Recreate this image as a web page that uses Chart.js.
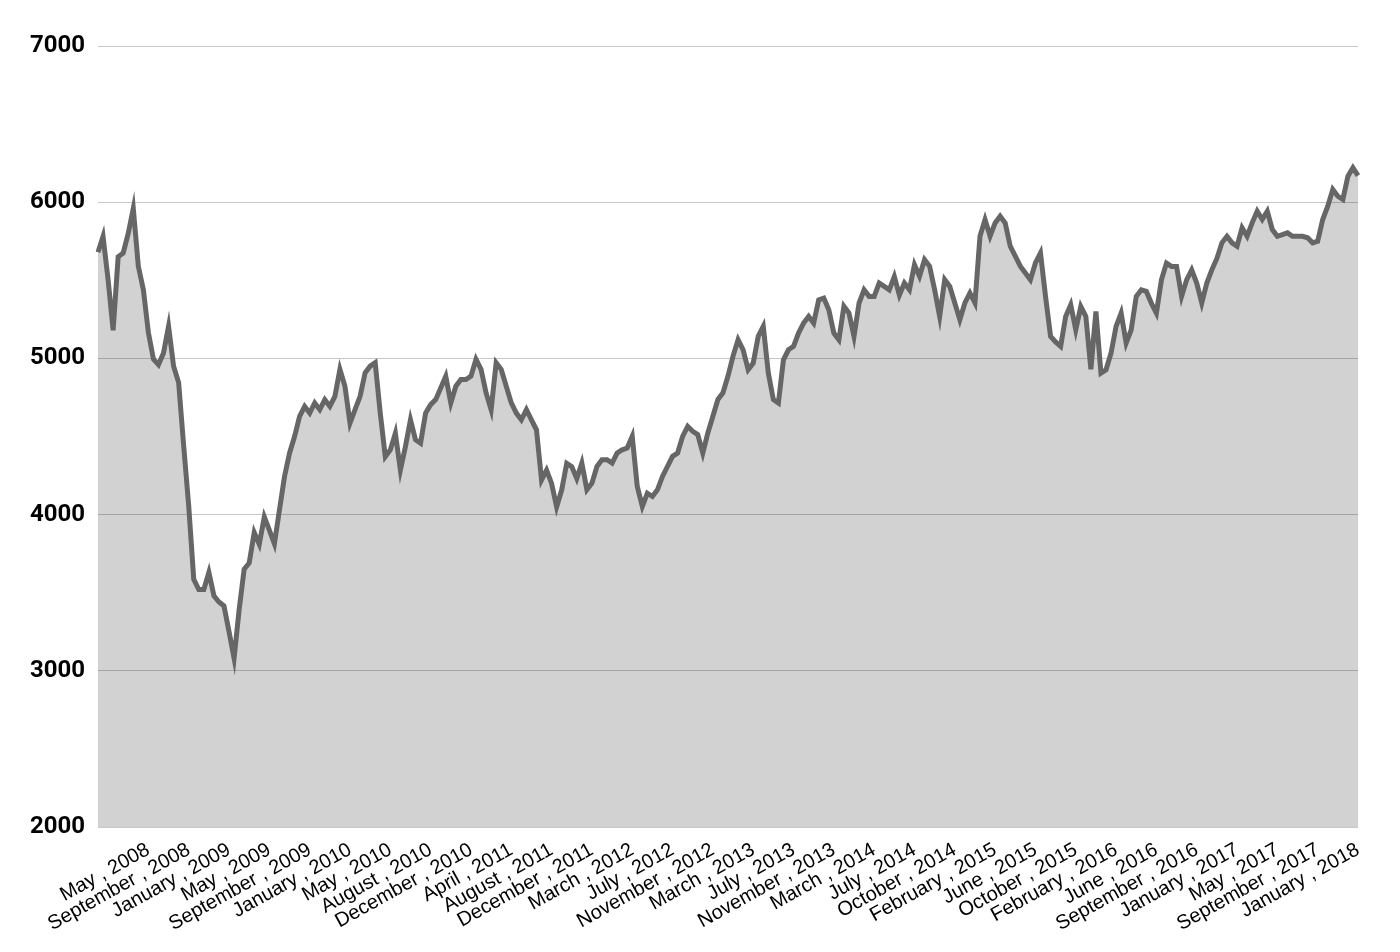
<!DOCTYPE html>
<html><head><meta charset="utf-8">
<script src="https://cdn.jsdelivr.net/npm/chart.js@4.4.1/dist/chart.umd.min.js"></script>
<style>html,body{margin:0;padding:0;background:#fff}</style>
</head><body>
<canvas id="c" width="1400" height="952"></canvas>
<script>
// Tick labels shown on the x axis (one every tickStep data points, starting at firstTickIndex)
const tickLabels = [
  "May , 2008","September , 2008","January , 2009","May , 2009","September , 2009",
  "January , 2010","May , 2010","August , 2010","December , 2010","April , 2011",
  "August , 2011","December , 2011","March , 2012","July , 2012","November , 2012",
  "March , 2013","July , 2013","November , 2013","March , 2014","July , 2014",
  "October , 2014","February , 2015","June , 2015","October , 2015","February , 2016",
  "June , 2016","September , 2016","January , 2017","May , 2017","September , 2017",
  "January , 2018"
];
const firstTickIndex = 10;
const tickStep = 8;

// Index values (roughly two-week sampling)
const values = [
  5680, 5780, 5505, 5180, 5650, 5675, 5800, 5960, 5590, 5440,
  5165, 4995, 4960, 5035, 5205, 4950, 4845, 4440, 4055, 3585,
  3520, 3520, 3630, 3480, 3440, 3415, 3250, 3080, 3390, 3650,
  3690, 3885, 3810, 3985, 3900, 3813, 4028, 4242, 4393, 4500,
  4629, 4693, 4650, 4715, 4672, 4736, 4693, 4757, 4930, 4822,
  4586, 4672, 4757, 4908, 4950, 4972, 4650, 4371, 4414, 4521,
  4285, 4436, 4607, 4479, 4457, 4650, 4704, 4736, 4811, 4886,
  4715, 4822, 4865, 4865, 4886, 4994, 4930, 4779, 4672, 4972,
  4930, 4822, 4715, 4650, 4607, 4672, 4607, 4543, 4221, 4285,
  4200, 4049, 4157, 4328, 4307, 4230, 4330, 4159, 4201, 4308,
  4351, 4351, 4330, 4394, 4415, 4426, 4501, 4180, 4052, 4137,
  4116, 4159, 4244, 4308, 4373, 4394, 4501, 4565, 4533, 4512,
  4394, 4523, 4630, 4737, 4780, 4887, 5015, 5120, 5055, 4928,
  4970, 5141, 5205, 4906, 4736, 4714, 4991, 5055, 5077, 5162,
  5226, 5269, 5226, 5375, 5386, 5311, 5162, 5119, 5333, 5290,
  5141, 5354, 5439, 5397, 5397, 5482, 5461, 5439, 5524, 5405,
  5483, 5440, 5600, 5526, 5632, 5590, 5440, 5269, 5504, 5461,
  5355, 5248, 5355, 5419, 5355, 5782, 5889, 5782, 5867, 5910,
  5867, 5718, 5654, 5590, 5547, 5504, 5611, 5675, 5397, 5141,
  5105, 5077, 5269, 5343, 5183, 5333, 5269, 4930, 5300, 4906,
  4927, 5034, 5205, 5290, 5098, 5183, 5397, 5439, 5429, 5354,
  5290, 5503, 5610, 5589, 5589, 5397, 5503, 5567, 5482, 5354,
  5482, 5567, 5640, 5740, 5782, 5740, 5718, 5836, 5782, 5868,
  5942, 5889, 5942, 5825, 5782, 5793, 5804, 5782, 5782, 5782,
  5772, 5740, 5750, 5889, 5974, 6081, 6038, 6017, 6166, 6220, 6170
];

const yMin = 2000, yMax = 7000, yStep = 1000;

const labels = values.map((v, i) => {
  const k = (i - firstTickIndex) / tickStep;
  return (Number.isInteger(k) && k >= 0 && k < tickLabels.length) ? tickLabels[k] : "";
});

new Chart(document.getElementById('c'), {
  type: 'line',
  data: {
    labels: labels,
    datasets: [{
      data: values,
      borderColor: '#666666',
      borderWidth: 5,
      backgroundColor: 'rgba(0,0,0,0.175)',
      fill: 'start',
      pointRadius: 0,
      tension: 0
    }]
  },
  options: {
    responsive: false,
    animation: false,
    layout: { padding: { top: 46, right: 42, bottom: 0, left: 0 } },
    plugins: { legend: { display: false }, tooltip: { enabled: false } },
    scales: {
      x: {
        grid: { display: false },
        border: { display: false },
        ticks: {
          autoSkip: false,
          minRotation: 29,
          maxRotation: 29,
          color: '#000',
          padding: 3,
          font: { family: 'Liberation Sans, Arial, sans-serif', size: 20 }
        },
        afterFit: (s) => { s.height = 125; }
      },
      y: {
        min: yMin,
        max: yMax,
        grid: { color: 'rgba(0,0,0,0.22)', lineWidth: 1, drawTicks: false },
        border: { display: false },
        ticks: {
          stepSize: yStep,
          color: '#000',
          padding: 13,
          font: { family: 'Roboto, sans-serif', size: 24, weight: 'bold' },
          callback: (v) => String(v)
        },
        afterFit: (s) => { s.width = 98; }
      }
    }
  }
});
</script>
</body></html>
